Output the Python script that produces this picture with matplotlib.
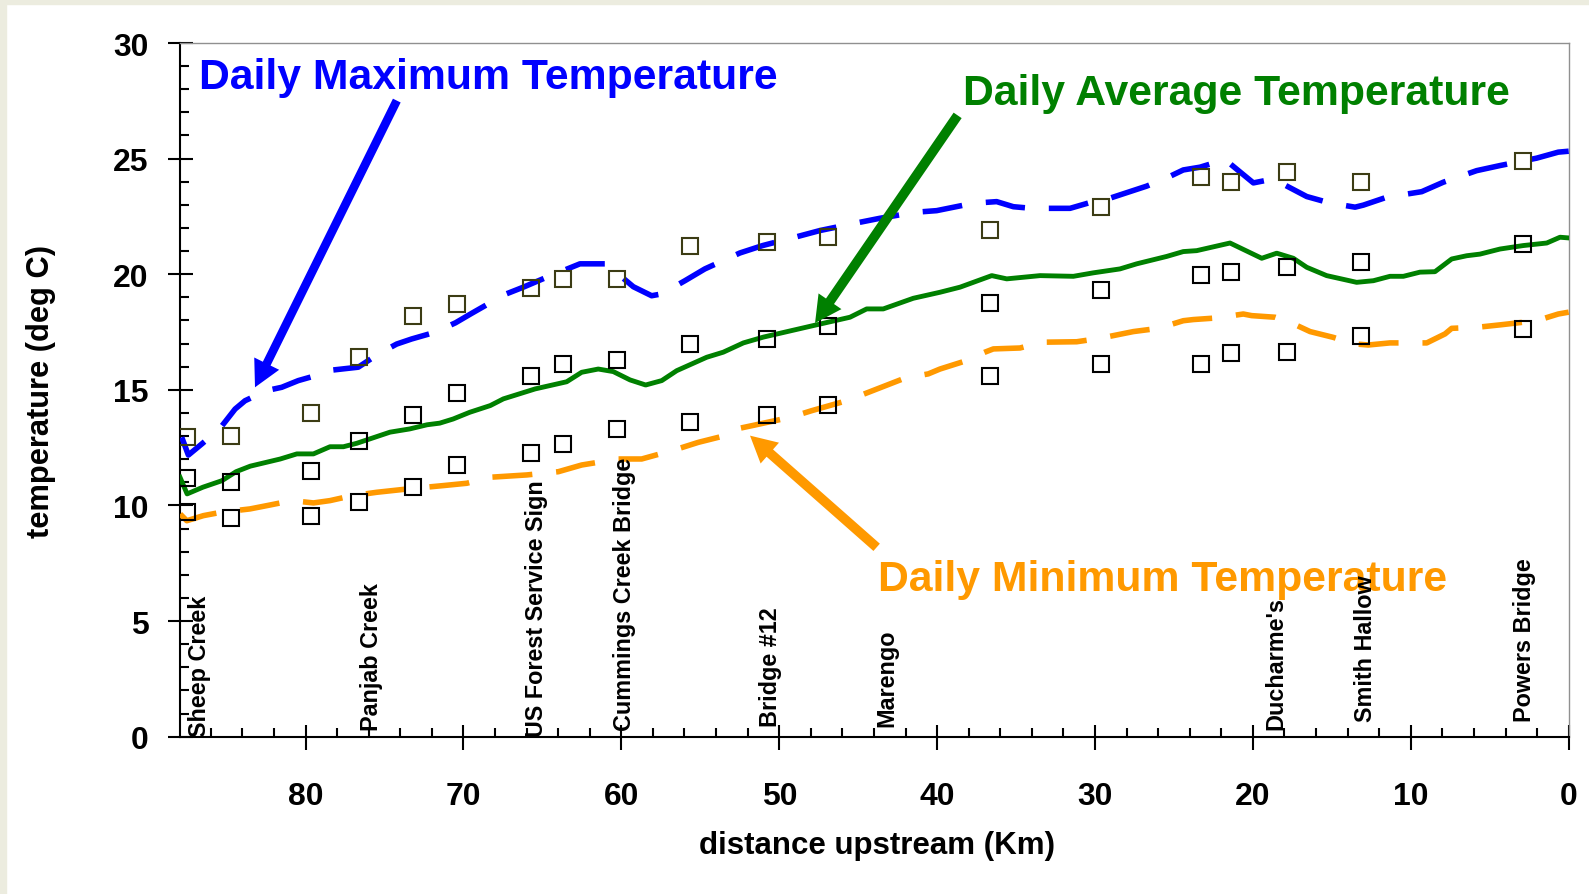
import matplotlib
matplotlib.use('Agg')
import matplotlib.pyplot as plt
from matplotlib import font_manager
from matplotlib.patches import Rectangle
from matplotlib.ticker import MultipleLocator

# the original uses a condensed bold face; fall back to shrinking the normal one
installed = {f.name for f in font_manager.fontManager.ttflist}
if 'Liberation Sans Narrow' in installed:
    plt.rcParams['font.family'] = ['Liberation Sans Narrow', 'DejaVu Sans']
    shrink = 1.0
else:
    plt.rcParams['font.family'] = ['Liberation Sans', 'DejaVu Sans']
    shrink = 0.84
plt.rcParams['font.weight'] = 'bold'

# --- data (distance upstream in km, temperature in deg C) ---
station_km = [87.5, 84.7, 79.65, 76.6, 73.2, 70.4, 65.7, 63.7, 60.3, 55.65,
              50.8, 46.9, 36.65, 29.65, 23.3, 21.4, 17.85, 13.15, 2.9]
obs_max = [12.95, 13.0, 14.0, 16.4, 18.2, 18.7, 19.4, 19.8, 19.8, 21.2,
           21.4, 21.6, 21.9, 22.9, 24.2, 24.0, 24.4, 24.0, 24.9]
obs_avg = [11.2, 11.0, 11.5, 12.8, 13.9, 14.85, 15.6, 16.1, 16.3, 17.0,
           17.2, 17.75, 18.75, 19.3, 19.95, 20.1, 20.3, 20.55, 21.3]
obs_min = [9.7, 9.45, 9.55, 10.15, 10.8, 11.75, 12.25, 12.65, 13.3, 13.6,
           13.9, 14.35, 15.6, 16.1, 16.1, 16.6, 16.65, 17.35, 17.65]

avg_km = [87.95, 87.5, 86.5, 85.3, 84.4, 83.5, 81.6, 80.55, 79.5, 78.45, 77.6,
          76.75, 74.65, 73.4, 72.3, 71.5, 70.65, 69.6, 68.3, 67.47, 65.46, 63.46,
          62.51, 61.46, 60.51, 59.45, 58.46, 57.44, 56.49, 54.59, 53.54, 52.27,
          51.01, 47.84, 45.52, 44.46, 43.41, 41.51, 39.82, 38.55, 36.54, 35.59,
          33.48, 31.37, 30.11, 28.42, 27.36, 25.46, 24.41, 23.56, 21.45, 19.44,
          18.49, 17.44, 16.59, 15.33, 13.43, 12.37, 11.32, 10.47, 9.42, 8.47,
          7.41, 6.46, 5.62, 4.35, 2.88, 1.39, 0.55, 0.0]
avg_model = [11.22, 10.5, 10.79, 11.07, 11.46, 11.7, 12.01, 12.23, 12.23, 12.54,
             12.54, 12.69, 13.17, 13.31, 13.49, 13.56, 13.74, 14.03, 14.32, 14.61,
             15.04, 15.35, 15.76, 15.9, 15.79, 15.43, 15.21, 15.4, 15.83, 16.41,
             16.63, 17.03, 17.28, 17.78, 18.14, 18.5, 18.5, 18.96, 19.22, 19.44,
             19.94, 19.8, 19.94, 19.91, 20.06, 20.23, 20.45, 20.77, 20.98, 21.02,
             21.35, 20.69, 20.91, 20.69, 20.3, 19.94, 19.65, 19.72, 19.91, 19.91,
             20.09, 20.11, 20.66, 20.8, 20.87, 21.09, 21.24, 21.35, 21.6, 21.57]

max_km = [87.84, 87.42, 86.57, 85.41, 84.46, 83.83, 82.46, 81.51, 80.46, 78.97,
          78.24, 76.66, 75.39, 74.23, 73.28, 71.8, 70.5, 69.5, 68.32, 67.47, 66.21,
          64.83, 62.62, 61.03, 60.08, 59.24, 58.08, 57.44, 55.97, 54.71, 52.49,
          51.05, 48.79, 47.42, 45.09, 43.62, 41.4, 40.03, 37.71, 36.23, 35.17,
          34.01, 32.68, 31.58, 30.42, 29.05, 26.73, 25.36, 24.41, 23.35, 21.77,
          19.97, 18.71, 16.59, 15.12, 13.53, 13.0, 11.53, 9.31, 7.94, 5.83, 4.35,
          2.03, 0.66, 0.0]
max_model = [12.95, 12.18, 12.66, 13.34, 14.17, 14.53, 14.97, 15.11, 15.4, 15.69,
             15.86, 15.98, 16.55, 16.98, 17.2, 17.49, 17.9, 18.3, 18.76, 19.1, 19.44,
             19.84, 20.45, 20.45, 19.94, 19.46, 19.07, 19.15, 19.72, 20.23, 20.92,
             21.24, 21.64, 21.89, 22.22, 22.42, 22.68, 22.75, 23.07, 23.14, 22.92,
             22.85, 22.85, 22.85, 23.08, 23.29, 23.81, 24.2, 24.51, 24.63, 24.96,
             23.95, 24.12, 23.36, 23.08, 22.9, 22.99, 23.33, 23.57, 23.98, 24.48,
             24.7, 25.02, 25.28, 25.32]

min_km = [87.94, 87.52, 86.47, 85.31, 83.52, 82.25, 80.87, 79.5, 78.45, 77.07,
          75.49, 73.59, 71.27, 69.79, 68.32, 65.99, 63.99, 62.51, 60.19, 58.71,
          56.6, 55.12, 53.43, 52.91, 51.53, 49.31, 47.94, 45.73, 44.25, 42.03,
          40.56, 39.82, 38.34, 36.97, 36.44, 34.75, 33.38, 31.16, 29.68, 27.57,
          25.99, 24.41, 23.77, 22.29, 20.61, 20.08, 18.6, 17.64, 16.38, 14.91,
          13.64, 12.69, 11.32, 8.99, 7.83, 7.41, 5.73, 4.35, 2.03, 0.66, 0.0]
min_model = [9.63, 9.34, 9.56, 9.71, 9.85, 10.02, 10.21, 10.11, 10.21, 10.42,
             10.57, 10.71, 10.86, 10.96, 11.22, 11.32, 11.46, 11.75, 12.01, 12.01,
             12.41, 12.73, 13.02, 13.28, 13.48, 13.81, 14.1, 14.53, 14.92, 15.51,
             15.69, 15.9, 16.22, 16.63, 16.77, 16.81, 17.06, 17.08, 17.23, 17.52,
             17.66, 17.99, 18.04, 18.11, 18.28, 18.21, 18.14, 17.92, 17.52, 17.27,
             16.99, 16.94, 17.03, 17.03, 17.42, 17.66, 17.71, 17.81, 17.99, 18.28,
             18.36]

site_names = ['Sheep Creek', 'Panjab Creek', 'US Forest Service Sign',
              'Cummings Creek Bridge', 'Bridge #12', 'Marengo', "Ducharme's",
              'Smith Hallow', 'Powers Bridge']
site_km = [86.74, 75.85, 65.36, 59.82, 50.58, 43.16, 18.55, 12.85, 2.82]
site_base = [0.02, 0.3, 0.03, 0.3, 0.48, 0.48, 0.33, 0.69, 0.69]

BLUE = '#0000ff'
GREEN = '#008000'
ORANGE = '#ff9900'

fig = plt.figure(figsize=(15.89, 8.95), dpi=100)
fig.patch.set_facecolor('white')
# beige slide frame on left and top
fig.patches.append(Rectangle((0, 0), 6 / 1589, 1, transform=fig.transFigure,
                             color='#ececdf', zorder=0))
fig.patches.append(Rectangle((0, 1 - 4.5 / 895), 1, 4.5 / 895,
                             transform=fig.transFigure, color='#ececdf', zorder=0))

ax = fig.add_axes([180 / 1589, 1 - 737.7 / 895, 1388.7 / 1589, 693.7 / 895])
ax.set_xlim(87.95, 0)
ax.set_ylim(0, 30)

# model lines
dash = (7.2, 4.3)
ax.plot(max_km, max_model, color=BLUE, lw=4.0, dashes=dash,
        dash_capstyle='butt', zorder=3)
ax.plot(avg_km, avg_model, color=GREEN, lw=3.5, zorder=3)
ax.plot(min_km, min_model, color=ORANGE, lw=4.0, dashes=dash,
        dash_capstyle='butt', zorder=3)

# observed values
sq = dict(ls='none', marker='s', ms=11, mfc='none', mew=1.5, zorder=4)
ax.plot(station_km, obs_max, mec='#3c3c14', **sq)
ax.plot(station_km, obs_avg, mec='black', **sq)
ax.plot(station_km, obs_min, mec='black', **sq)

# axes styling
for side in ['top', 'right']:
    ax.spines[side].set_color('#909090')
    ax.spines[side].set_linewidth(1.0)
for side in ['left', 'bottom']:
    ax.spines[side].set_color('black')
    ax.spines[side].set_linewidth(1.5)

ax.xaxis.set_major_locator(MultipleLocator(10))
ax.xaxis.set_minor_locator(MultipleLocator(2))
ax.yaxis.set_major_locator(MultipleLocator(5))
ax.yaxis.set_minor_locator(MultipleLocator(1))
ax.tick_params(which='major', direction='inout', length=18, width=1.5,
               labelsize=25 * shrink ** 0.5, top=False, right=False)
ax.tick_params(axis='y', which='major', pad=13.5)
ax.tick_params(axis='x', which='major', pad=23)
ax.tick_params(which='minor', direction='in', length=6.7, width=1.5,
               top=False, right=False)

fig.text(41.5 / 1589, 1 - 392 / 895, 'temperature (deg C)', rotation=90,
         ha='center', va='center', fontsize=26.5 * shrink)
fig.text(877 / 1589, 1 - 846 / 895, 'distance upstream (Km)',
         ha='center', va='center', fontsize=26.8 * shrink)

# series captions and arrows
title_font = ['Liberation Sans', 'DejaVu Sans']
ax.text(86.77, 28.55, 'Daily Maximum Temperature', color=BLUE, fontsize=30.8,
        family=title_font, ha='left', va='center', zorder=5)
ax.text(38.38, 27.85, 'Daily Average Temperature', color=GREEN, fontsize=30.8,
        family=title_font, ha='left', va='center', zorder=5)
ax.text(43.77, 6.8, 'Daily Minimum Temperature', color=ORANGE, fontsize=30.8,
        family=title_font, ha='left', va='center', zorder=5)

def arrow(tail, tip, color, shaft):
    style = 'simple,head_length=19,head_width=20,tail_width=%g' % shaft
    ax.annotate('', xy=tip, xytext=tail,
                arrowprops=dict(arrowstyle=style, color=color, lw=0,
                                mutation_scale=1, shrinkA=0, shrinkB=0),
                zorder=5)

arrow((74.22, 27.51), (83.2, 15.11), BLUE, 6.2)
arrow((38.7, 26.87), (47.73, 17.89), GREEN, 7)
arrow((43.83, 8.19), (51.85, 13.02), ORANGE, 7)

# site names along the bottom
for name, km, base in zip(site_names, site_km, site_base):
    ax.text(km, base, name, rotation=90, ha='center', va='bottom',
            fontsize=20 * shrink, zorder=6)

fig.savefig('out.png', dpi=100, facecolor=fig.get_facecolor())
